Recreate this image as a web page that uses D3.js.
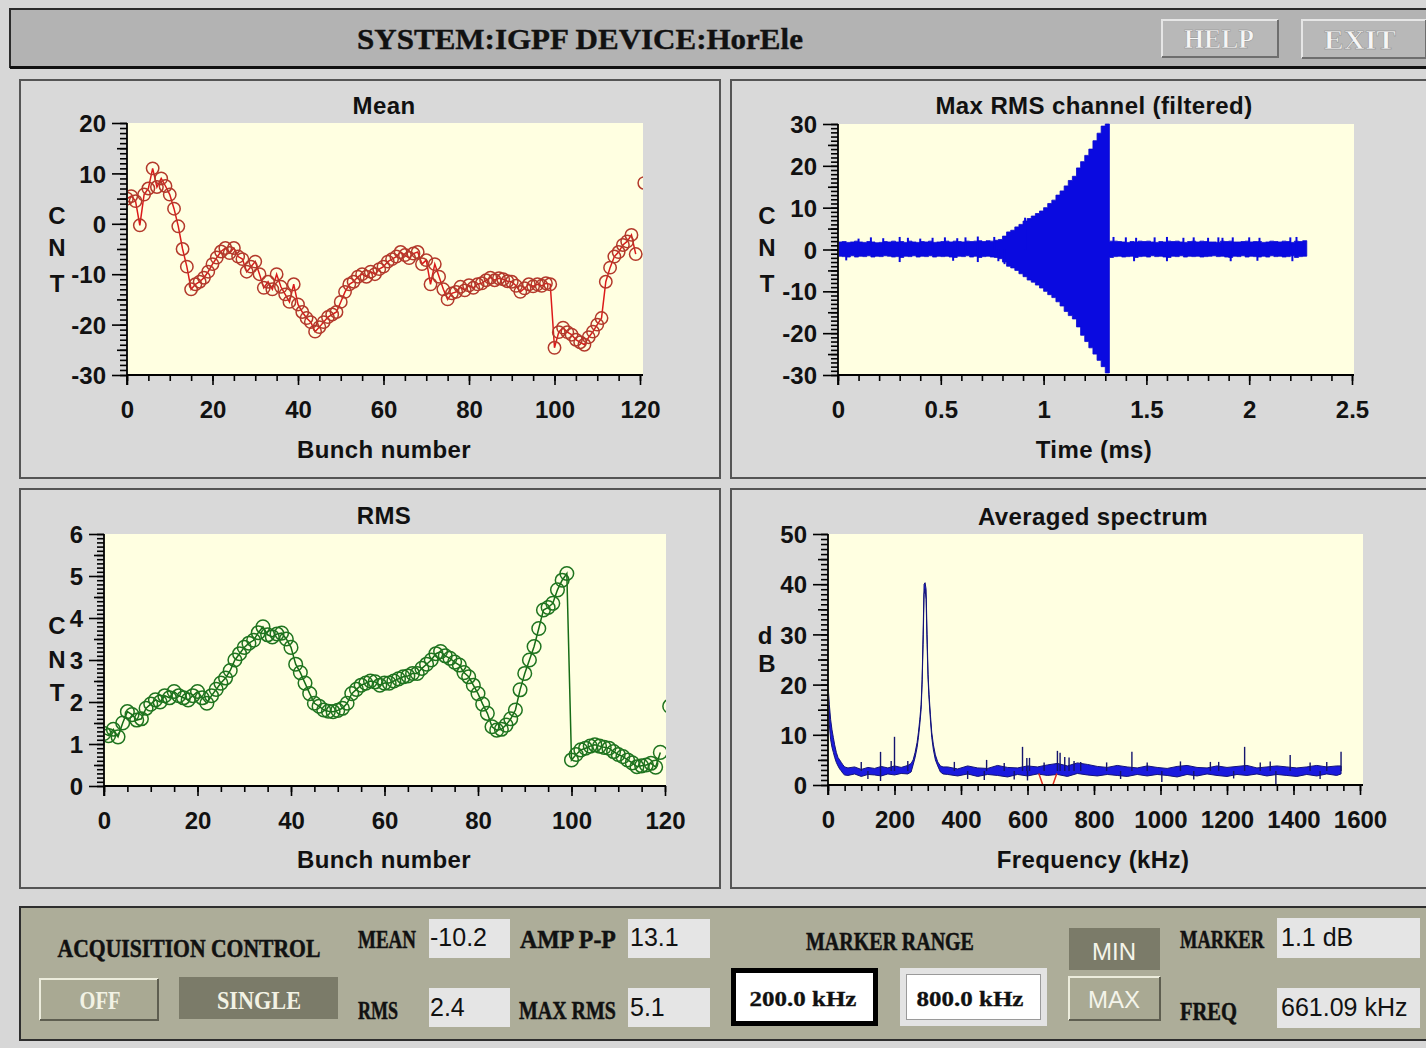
<!DOCTYPE html>
<html>
<head>
<meta charset="utf-8">
<script src="https://cdn.jsdelivr.net/npm/d3@7"></script>
<style>
  body { margin: 0; background: #d7d7d7; }
  svg { display: block; }
</style>
</head>
<body>
<svg id="screen" width="1426" height="1048"></svg>
<script>
// ---------------- data ----------------
// Mean position per bunch (CNT), bunches 0..119
const meanCnt = [
  5, 5.5, 4.5, -0.3, 5.8, 7, 11, 7.3, 9, 7.5,
  5.8, 3, -0.5, -5, -8.5, -13, -12, -11.5, -10.7, -9.5,
  -8, -6.7, -5.5, -4.8, -5.8, -4.8, -6.5, -7, -9.5, -8.5,
  -7.5, -10, -12.7, -11.5, -13, -10, -12.5, -14, -15.5, -12,
  -16, -17.5, -18.7, -19.5, -21.4, -20.5, -19.5, -18.5, -18, -17.5,
  -15.5, -13.5, -12, -11.5, -10.5, -10, -10.5, -9.5, -10, -9,
  -8.5, -7.5, -7, -6.5, -5.6, -6.2, -6.8, -5.9, -5.6, -8,
  -7.2, -12, -8, -10.5, -13, -15, -13.8, -13.5, -12.5, -13.2,
  -12.2, -12.7, -12, -11.8, -11.2, -10.7, -11.2, -10.8, -11, -11.4,
  -11.5, -12.3, -13.5, -12.8, -12, -12.4, -12, -12.3, -11.8, -12,
  -24.6, -21.5, -20.6, -21.5, -22, -23, -23.5, -24, -22.5, -21.4,
  -20, -18.7, -11.5, -8.7, -6.5, -5.6, -4.2, -3.5, -2.2, -6
];
const meanEdgeBunch = [121];
const meanEdgeCnt = [8.1];

// RMS per bunch (CNT), bunches 0..119
const rmsCnt = [
  1.25, 1.2, 1.35, 1.17, 1.5, 1.77, 1.7, 1.57, 1.6, 1.85,
  1.95, 2.05, 2.0, 2.15, 2.1, 2.25, 2.15, 2.1, 2.05, 2.15,
  2.25, 2.1, 1.97, 2.15, 2.3, 2.45, 2.57, 2.75, 3.0, 3.15,
  3.3, 3.4, 3.47, 3.65, 3.79, 3.6, 3.55, 3.62, 3.64, 3.5,
  3.3, 2.9, 2.7, 2.45, 2.2, 1.97, 1.9, 1.81, 1.78, 1.77,
  1.8, 1.85, 1.97, 2.2, 2.3, 2.4, 2.45, 2.5, 2.48, 2.4,
  2.45, 2.45, 2.5, 2.55, 2.6, 2.62, 2.68, 2.68, 2.8, 2.9,
  3.0, 3.15, 3.2, 3.1, 3.04, 2.95, 2.88, 2.7, 2.6, 2.4,
  2.2, 1.95, 1.73, 1.41, 1.33, 1.35, 1.45, 1.6, 1.81, 2.29,
  2.68, 3.0, 3.32, 3.75, 4.19, 4.25, 4.35, 4.67, 4.9, 5.06,
  0.62, 0.75, 0.86, 0.9, 0.95, 0.98, 0.95, 0.92, 0.9, 0.82,
  0.75, 0.7, 0.62, 0.55, 0.46, 0.48, 0.5, 0.54, 0.45, 0.8
];
const rmsEdgeBunch = [121];
const rmsEdgeCnt = [1.9];

// Max RMS channel: envelope of the filtered signal, one pair per 0.02 ms
const sampleStepMs = 0.02;
const maxUpper = [
  1.8, 1.9, 1.7, 1.8, 2.0, 1.8, 1.7, 1.9, 1.8, 1.6,
  1.7, 1.9, 1.8, 2.0, 1.8, 1.9, 1.7, 2.0, 1.8, 1.7,
  1.9, 1.8, 2.0, 1.7, 1.8, 1.9, 2.0, 1.8, 2.0, 1.9,
  1.8, 2.0, 1.9, 2.0, 2.1, 1.9, 2.1, 2.0, 2.2, 2.4,
  3.2, 4.2, 4.6, 5.4, 6.0, 6.8, 7.4, 8.0, 8.6, 9.2,
  10.0, 11.0, 11.8, 13.0, 14.0, 15.2, 16.5, 17.5, 19.5, 21.0,
  22.5, 24.0, 26.0, 27.8, 29.5, 30.0, 2.0,
  2.0, 1.9, 1.8, 1.7, 1.9, 1.8, 2.0, 1.9, 2.0, 1.8,
  1.7, 1.9, 1.8, 2.0, 1.9, 2.0, 1.8, 1.7, 1.9, 2.0,
  1.8, 2.0, 1.9, 1.8, 1.8, 1.7, 2.0, 1.9, 2.0, 1.8,
  1.8, 1.9, 2.0, 1.8, 1.9, 1.9, 1.7, 1.8, 2.0, 1.9,
  1.8, 2.0, 1.9, 1.7, 2.0, 1.9, 2.1, 2.1
];
const maxLower = [
  -1.6, -1.7, -1.8, -1.5, -1.8, -1.6, -1.7, -1.5, -1.8, -1.6,
  -1.7, -1.5, -1.6, -1.8, -1.7, -1.9, -1.6, -1.7, -1.5, -1.8,
  -1.6, -1.7, -1.5, -1.8, -1.6, -1.7, -1.6, -1.8, -1.9, -1.6,
  -1.7, -1.5, -1.8, -1.6, -1.9, -1.7, -1.6, -1.8, -1.9, -2.2,
  -3.0, -4.0, -4.4, -5.0, -5.8, -6.5, -7.3, -7.8, -8.5, -9.2,
  -10, -10.8, -11.5, -12.5, -13.5, -14.8, -15.8, -16.6, -18.5, -20.5,
  -22.0, -23.5, -25.0, -26.5, -28.0, -29.5, -1.9,
  -1.7, -1.6, -1.8, -1.7, -1.6, -1.9, -1.7, -1.6, -1.8, -1.5,
  -1.7, -1.6, -1.8, -1.9, -1.6, -1.7, -1.5, -1.8, -1.6, -1.7,
  -1.6, -1.8, -1.7, -1.6, -1.5, -1.7, -1.6, -1.8, -1.9, -1.6,
  -1.7, -1.5, -1.8, -1.6, -1.7, -1.8, -1.6, -1.8, -1.5, -1.7,
  -1.6, -1.8, -1.7, -1.5, -1.9, -1.7, -1.6, -1.6
];
// single-sample excursions out of the noise band (ms, CNT)
const sigSpikeTime = [0.04, 0.10, 0.16, 0.22, 0.30, 0.30, 0.34, 0.40, 0.46, 0.52, 0.56, 0.58, 0.62, 0.68, 0.68, 0.76, 0.78, 0.81, 0.91,
                      1.34, 1.40, 1.44, 1.45, 1.54, 1.60, 1.60, 1.68, 1.73, 1.80, 1.85, 1.87, 1.91, 1.92, 2.00, 2.04, 2.05, 2.20, 2.21, 2.23];
const sigSpikeCnt = [-2.6, 2.6, 2.9, 2.7, 3.0, -3.0, 2.8, 2.6, 2.8, 2.9, -2.7, 2.7, 2.9, 3.1, -3.0, 3.0, -2.8, -3.5, 7.6,
                     3.0, 2.9, -2.8, 2.8, 2.9, 3.0, -2.8, 2.8, 2.9, 2.8, 2.9, 2.8, -2.8, 2.9, 2.9, -2.7, 2.8, 2.9, -2.8, 3.0];

// Averaged spectrum: noise band (low/high dB) against frequency (kHz)
const specFreq = [
  0, 4, 8, 12, 16, 20, 25, 30, 35, 40, 45, 50,
  60, 80, 100, 120, 140, 160, 180, 200, 220, 240, 250,
  256, 262, 268, 272, 276, 280, 283, 286, 289, 292, 295, 298, 301, 304, 308, 312, 317, 323, 330, 338, 346,
  360, 390, 420, 450, 480, 510, 540, 570, 600, 630,
  660, 690, 720, 750, 780, 810, 840, 870, 900, 930,
  960, 990, 1020, 1050, 1080, 1110, 1140, 1170, 1200, 1230,
  1260, 1290, 1320, 1350, 1380, 1410, 1440, 1470, 1500, 1530, 1543
];
const specHigh = [
  20, 16, 13, 11, 9.5, 8, 6.5, 5.5, 5, 4.5, 4, 3.6,
  3.4, 3.6, 3.1, 3.5, 3.3, 3.7, 3.4, 3.8, 3.5, 3.9, 4.3,
  5, 6.5, 8.5, 10.5, 13, 16, 21, 30, 40, 40.3, 39, 30, 22, 18, 14, 10.5, 8, 6, 4.6, 3.8, 3.6,
  3.6, 3.2, 3.8, 3.4, 3.3, 3.9, 3.5, 3.4, 3.8, 3.6,
  4.0, 4.3, 3.8, 4.4, 4.1, 3.7, 3.5, 3.9, 3.6, 3.4,
  3.8, 3.5, 3.3, 3.7, 3.9, 3.5, 3.4, 3.8, 3.5, 3.7,
  3.9, 3.4, 3.6, 3.8, 3.6, 3.4, 3.6, 3.9, 3.6, 3.8, 3.8
];
const specLow = [
  18, 12, 9, 7.5, 6.5, 5.5, 4.5, 3.8, 3.2, 2.8, 2.3, 2.0,
  1.9, 2.2, 1.7, 2.1, 2.0, 1.8, 2.2, 2.0, 2.3, 2.2, 2.6,
  4, 5.5, 7.5, 9.5, 12, 15, 20, 28, 38, 39, 37, 28, 21, 17, 13, 9.5, 7, 5, 3.8, 2.6, 2.2,
  2.1, 1.8, 2.2, 1.7, 2.1, 1.9, 1.6, 2.1, 1.8, 2.2,
  1.9, 2.1, 1.7, 2.3, 2.0, 1.8, 2.1, 1.9, 1.7, 2.1,
  1.8, 2.1, 1.9, 1.6, 2.1, 1.8, 2.2, 1.9, 1.7, 2.1,
  1.9, 2.2, 1.8, 2.1, 1.9, 1.7, 2.1, 1.8, 2.2, 1.9, 2.2
];
// isolated spectral lines (kHz, dB reached)
const spikeFreq = [100, 158, 190, 200, 240, 380, 477, 530, 585, 598, 606, 650, 690, 698, 712, 725, 740, 760, 838, 914,
                   960, 1060, 1150, 1175, 1253, 1300, 1330, 1390, 1450, 1500, 1543,
                   120, 158, 420, 470, 560, 600, 880, 1004, 1100, 1220, 1347, 1480];
const spikeDb   = [4.6, 6.6, 4.8, 9.6, 4.8, 4.6, 5.0, 4.4, 7.6, 5.4, 5.4, 4.5, 6.8, 6.4, 5.6, 5.5, 4.8, 4.6, 4.5, 6.6,
                   4.5, 4.7, 4.6, 4.6, 7.6, 4.5, 4.7, 6.0, 4.5, 4.6, 6.6,
                   1.2, 0.8, 1.2, 1.0, 1.1, 0.9, 1.2, 0.6, 1.1, 1.3, 0.2, 1.2];
const markerFreq = 661.09;

// tick labels
const bunchTicks = [0, 20, 40, 60, 80, 100, 120];
const meanTicks = [-30, -20, -10, 0, 10, 20];
const rmsTicks = [0, 1, 2, 3, 4, 5, 6];
const timeTicks = [0, 0.5, 1, 1.5, 2, 2.5];
const cntTicks = [-30, -20, -10, 0, 10, 20, 30];
const freqTicks = [0, 200, 400, 600, 800, 1000, 1200, 1400, 1600];
const dbTicks = [0, 10, 20, 30, 40, 50];

// read-outs
const readMean = "-10.2", readAmp = "13.1", readRms = "2.4", readMaxRms = "5.1";
const readMarker = "1.1 dB", readFreq = "661.09 kHz";
const rangeMin = "200.0 kHz", rangeMax = "800.0 kHz";

// ---------------- drawing ----------------
const SANS = "'Liberation Sans', Arial, Helvetica, sans-serif";
const SERIF = "'Liberation Serif', 'DejaVu Serif', serif";
const svg = d3.select("#screen");

// text helper; `len` squeezes the text horizontally to the given width
function txt(parent, s, x, y, o = {}) {
  const t = parent.append("text").attr("x", x).attr("y", y).text(s)
    .attr("font-family", o.family || SANS)
    .attr("font-weight", o.weight || "bold")
    .attr("font-size", o.size || 24)
    .attr("fill", o.fill || "#111")
    .attr("text-anchor", o.anchor || "start");
  if (o.ls) t.attr("letter-spacing", o.ls);
  if (o.stroke) t.attr("stroke", o.stroke).attr("stroke-width", o.sw || 0.6);
  if (o.len) {
    const w = t.node().getComputedTextLength();
    if (w > 0) {
      const k = o.len / w;
      t.attr("transform", `translate(${x},${y}) scale(${k},1) translate(${-x},${-y})`);
    }
  }
  return t;
}

function bevel(parent, x, y, w, h, face, light, dark, lw = 2) {
  parent.append("rect").attr("x", x).attr("y", y).attr("width", w).attr("height", h).attr("fill", face);
  parent.append("path").attr("d", `M${x},${y + h}V${y}H${x + w}`).attr("fill", "none")
    .attr("stroke", light).attr("stroke-width", lw);
  parent.append("path").attr("d", `M${x},${y + h}H${x + w}V${y}`).attr("fill", "none")
    .attr("stroke", dark).attr("stroke-width", lw);
}

// header bar
svg.append("rect").attr("x", 10).attr("y", 9).attr("width", 1430).attr("height", 58)
  .attr("fill", "#b3b3b3").attr("stroke", "#2b2b2b").attr("stroke-width", 2);
svg.append("line").attr("x1", 10).attr("x2", 1426).attr("y1", 67.5).attr("y2", 67.5)
  .attr("stroke", "#111").attr("stroke-width", 3);
txt(svg, "SYSTEM:IGPF DEVICE:HorEle", 580, 49, { family: SERIF, size: 30, anchor: "middle", len: 446, stroke: "#111", sw: 0.4 });
bevel(svg, 1162, 20, 116, 37, "#b8b8b8", "#e6e6e6", "#6e6e6e");
bevel(svg, 1302, 20, 124, 38, "#b8b8b8", "#e6e6e6", "#6e6e6e");
txt(svg, "HELP", 1219, 48, { family: SERIF, size: 27, anchor: "middle", len: 70, fill: "#f6f6f6", stroke: "#8a8a8a", sw: 0.5 });
txt(svg, "EXIT", 1360, 49, { family: SERIF, size: 27, anchor: "middle", len: 72, fill: "#f6f6f6", stroke: "#8a8a8a", sw: 0.5 });

// plot panels
[[20, 80, 700, 398], [731, 80, 710, 398], [20, 489, 700, 399], [731, 489, 710, 399]].forEach(([x, y, w, h]) => {
  svg.append("rect").attr("x", x).attr("y", y).attr("width", w).attr("height", h)
    .attr("fill", "#d9d9d9").attr("stroke", "#555").attr("stroke-width", 2);
});

function chart(cfg) {
  const g = svg.append("g");
  const x = d3.scaleLinear().domain(cfg.xDomain).range(cfg.xRange);
  const y = d3.scaleLinear().domain(cfg.yDomain).range(cfg.yRange);
  const x0 = cfg.xRange[0], yb = cfg.yRange[0], yt = cfg.yRange[1];
  g.append("rect").attr("x", x0).attr("y", yt).attr("width", cfg.right - x0).attr("height", yb - yt)
    .attr("fill", "#ffffe1");
  g.append("clipPath").attr("id", cfg.id).append("rect")
    .attr("x", x0 + 1).attr("y", yt - 1).attr("width", cfg.right - x0 - 1).attr("height", yb - yt + 1);
  const plot = g.append("g").attr("clip-path", `url(#${cfg.id})`);
  return { g, x, y, plot, cfg };
}

const plainNum = d => String(d);

function axes(c) {
  const { g, x, y, cfg } = c;
  const x0 = cfg.xRange[0], yb = cfg.yRange[0], yt = cfg.yRange[1];
  const style = sel => {
    sel.select(".domain").remove();
    sel.selectAll("line").attr("stroke", "#000").attr("stroke-width", 1.6);
    sel.attr("font-family", SANS).attr("font-size", 24).attr("font-weight", "bold");
    sel.selectAll("text").attr("fill", "#111");
  };
  // y axis: minor, medium, major
  g.append("g").attr("transform", `translate(${x0},0)`)
    .call(d3.axisLeft(y).tickValues(cfg.yMinor).tickSize(7).tickFormat("")).call(style);
  if (cfg.yMid) g.append("g").attr("transform", `translate(${x0},0)`)
    .call(d3.axisLeft(y).tickValues(cfg.yMid).tickSize(10).tickFormat("")).call(style);
  g.append("g").attr("transform", `translate(${x0},0)`)
    .call(d3.axisLeft(y).tickValues(cfg.yTicks).tickSize(15).tickPadding(6).tickFormat(plainNum))
    .call(style)
    .selectAll("text").attr("dy", "0.36em");
  // x axis
  g.append("g").attr("transform", `translate(0,${yb})`)
    .call(d3.axisBottom(x).tickValues(cfg.xMinor).tickSize(6).tickFormat("")).call(style);
  g.append("g").attr("transform", `translate(0,${yb})`)
    .call(d3.axisBottom(x).tickValues(cfg.xTicks).tickSize(10).tickPadding(16).tickFormat(plainNum))
    .call(style);
  g.append("line").attr("x1", x0).attr("x2", cfg.right).attr("y1", yb).attr("y2", yb)
    .attr("stroke", "#000").attr("stroke-width", 1.8);
  g.append("line").attr("x1", x0).attr("x2", x0).attr("y1", yt).attr("y2", yb + 10)
    .attr("stroke", "#000").attr("stroke-width", 1.8);
  // titles
  txt(g, cfg.title, cfg.titleX, cfg.titleY, { anchor: "middle", ls: 0.4 });
  txt(g, cfg.xLabel, cfg.titleX, cfg.xLabelY, { anchor: "middle", ls: 0.4 });
  cfg.yLetters.forEach(([s, lx, ly]) => txt(g, s, lx, ly, { anchor: "middle" }));
}

// --- Mean ---
const mean = chart({
  id: "clipMean", xDomain: [0, 120], xRange: [127, 640], right: 643,
  yDomain: [-30, 20], yRange: [375, 123]
});
Object.assign(mean.cfg, {
  yMinor: d3.range(-30, 20.5, 1), yMid: d3.range(-25, 20, 10), yTicks: meanTicks,
  xMinor: d3.range(0, 121, 5), xTicks: bunchTicks,
  title: "Mean", titleX: 384, titleY: 114, xLabel: "Bunch number", xLabelY: 458,
  yLetters: [["C", 57, 224], ["N", 57, 256], ["T", 57, 292]]
});
mean.plot.append("path").datum(meanCnt)
  .attr("d", d3.line().x((d, i) => mean.x(i)).y(d => mean.y(d)))
  .attr("fill", "none").attr("stroke", "#dc1a1a").attr("stroke-width", 1.5);
mean.plot.selectAll("circle.m").data(meanCnt).join("circle")
  .attr("cx", (d, i) => mean.x(i)).attr("cy", d => mean.y(d)).attr("r", 6.2)
  .attr("fill", "none").attr("stroke", "#b3392b").attr("stroke-width", 1.5);
mean.plot.selectAll("circle.e").data(meanEdgeCnt).join("circle")
  .attr("cx", (d, i) => mean.x(meanEdgeBunch[i])).attr("cy", d => mean.y(d)).attr("r", 6.2)
  .attr("fill", "none").attr("stroke", "#b3392b").attr("stroke-width", 1.5);
axes(mean);

// --- RMS ---
const rms = chart({
  id: "clipRms", xDomain: [0, 120], xRange: [104, 665], right: 666,
  yDomain: [0, 6], yRange: [786, 534]
});
Object.assign(rms.cfg, {
  yMinor: d3.range(0, 6.01, 0.1), yMid: d3.range(0.5, 6, 1), yTicks: rmsTicks,
  xMinor: d3.range(0, 121, 5), xTicks: bunchTicks,
  title: "RMS", titleX: 384, titleY: 524, xLabel: "Bunch number", xLabelY: 868,
  yLetters: [["C", 57, 634], ["N", 57, 668], ["T", 57, 701]]
});
rms.plot.append("path").datum(rmsCnt)
  .attr("d", d3.line().x((d, i) => rms.x(i)).y(d => rms.y(d)))
  .attr("fill", "none").attr("stroke", "#166c16").attr("stroke-width", 1.5);
rms.plot.selectAll("circle.m").data(rmsCnt).join("circle")
  .attr("cx", (d, i) => rms.x(i)).attr("cy", d => rms.y(d)).attr("r", 6.8)
  .attr("fill", "none").attr("stroke", "#1f741f").attr("stroke-width", 1.5);
rms.plot.selectAll("circle.e").data(rmsEdgeCnt).join("circle")
  .attr("cx", (d, i) => rms.x(rmsEdgeBunch[i])).attr("cy", d => rms.y(d)).attr("r", 6.8)
  .attr("fill", "none").attr("stroke", "#1f741f").attr("stroke-width", 1.5);
axes(rms);

// --- Max RMS channel (filtered) ---
const sig = chart({
  id: "clipSig", xDomain: [0, 2.5], xRange: [838, 1352], right: 1354,
  yDomain: [-30, 30], yRange: [375, 124]
});
Object.assign(sig.cfg, {
  yMinor: d3.range(-30, 30.5, 1), yMid: d3.range(-25, 30, 10), yTicks: cntTicks,
  xMinor: d3.range(0, 2.51, 0.1), xTicks: timeTicks,
  title: "Max RMS channel (filtered)", titleX: 1094, titleY: 114, xLabel: "Time (ms)", xLabelY: 458,
  yLetters: [["C", 767, 224], ["N", 767, 256], ["T", 767, 292]]
});
sig.plot.append("path").datum(maxUpper)
  .attr("d", d3.area().curve(d3.curveStepAfter)
    .x((d, i) => sig.x(i * sampleStepMs))
    .y0((d, i) => sig.y(maxLower[i])).y1(d => sig.y(d)))
  .attr("fill", "#0a0ae0").attr("stroke", "#0a0ad0").attr("stroke-width", 0.8);
sig.plot.selectAll("line.spk").data(sigSpikeTime).join("line")
  .attr("x1", d => sig.x(d)).attr("x2", d => sig.x(d))
  .attr("y1", sig.y(0)).attr("y2", (d, i) => sig.y(sigSpikeCnt[i]))
  .attr("stroke", "#0a0ae0").attr("stroke-width", 2);
axes(sig);

// --- Averaged spectrum ---
const spec = chart({
  id: "clipSpec", xDomain: [0, 1600], xRange: [828, 1360], right: 1363,
  yDomain: [0, 50], yRange: [785, 534]
});
Object.assign(spec.cfg, {
  yMinor: d3.range(0, 50.5, 1), yMid: d3.range(5, 50, 10), yTicks: dbTicks,
  xMinor: d3.range(0, 1601, 50), xTicks: freqTicks,
  title: "Averaged spectrum", titleX: 1093, titleY: 525, xLabel: "Frequency (kHz)", xLabelY: 868,
  yLetters: [["d", 765, 644], ["B", 767, 672]]
});
spec.plot.append("path").datum(specFreq)
  .attr("d", d3.area().x(d => spec.x(d)).y0((d, i) => spec.y(specLow[i])).y1((d, i) => spec.y(specHigh[i])))
  .attr("fill", "#1a1ade").attr("stroke", "#12127a").attr("stroke-width", 1);
spec.plot.selectAll("line.spk").data(spikeFreq).join("line")
  .attr("x1", d => spec.x(d)).attr("x2", d => spec.x(d))
  .attr("y1", spec.y(2.8)).attr("y2", (d, i) => spec.y(spikeDb[i]))
  .attr("stroke", "#14146e").attr("stroke-width", 1.4);
// frequency marker
const mx = spec.x(markerFreq);
spec.plot.append("path")
  .attr("d", `M${mx - 9},${spec.y(2.3)}L${mx - 5},${spec.y(0)}M${mx + 9},${spec.y(2.3)}L${mx + 5},${spec.y(0)}`)
  .attr("fill", "none").attr("stroke", "#e03020").attr("stroke-width", 1.5);
axes(spec);

// ---------------- control panel ----------------
const cp = svg.append("g");
cp.append("rect").attr("x", 20).attr("y", 907).attr("width", 1420).attr("height", 133)
  .attr("fill", "#adad99").attr("stroke", "#2e2e2e").attr("stroke-width", 2);

const lab = { family: SERIF, size: 25, stroke: "#111", sw: 0.5 };
txt(cp, "ACQUISITION CONTROL", 189, 957, { ...lab, anchor: "middle", len: 263 });
bevel(cp, 40, 979, 118, 41, "#a9a993", "#ececdc", "#5e5e50");
txt(cp, "OFF", 100, 1009, { family: SERIF, size: 25, anchor: "middle", len: 41, fill: "#f2f2e4" });
cp.append("rect").attr("x", 179).attr("y", 977).attr("width", 159).attr("height", 42).attr("fill", "#7b7b69");
txt(cp, "SINGLE", 259, 1009, { family: SERIF, size: 25, anchor: "middle", len: 84, fill: "#f2f2e4" });

// value boxes
[[429, 919, 81, 39], [628, 919, 82, 39], [429, 988, 81, 39], [628, 988, 82, 39],
 [1277, 918, 143, 40], [1277, 988, 143, 40]].forEach(([x, y, w, h]) => {
  cp.append("rect").attr("x", x).attr("y", y).attr("width", w).attr("height", h).attr("fill", "#e5e5e5");
});
txt(cp, "MEAN", 358, 948, { ...lab, len: 58 });
txt(cp, "AMP P-P", 520, 948, { ...lab, len: 96 });
txt(cp, "RMS", 358, 1019, { ...lab, len: 40 });
txt(cp, "MAX RMS", 519, 1019, { ...lab, len: 97 });
txt(cp, readMean, 430, 946, { weight: "normal", size: 25 });
txt(cp, readAmp, 630, 946, { weight: "normal", size: 25 });
txt(cp, readRms, 430, 1016, { weight: "normal", size: 25 });
txt(cp, readMaxRms, 630, 1016, { weight: "normal", size: 25 });

txt(cp, "MARKER RANGE", 806, 950, { ...lab, len: 168 });
cp.append("rect").attr("x", 733.5).attr("y", 970.5).attr("width", 142).attr("height", 53)
  .attr("fill", "#fff").attr("stroke", "#000").attr("stroke-width", 5);
txt(cp, rangeMin, 803, 1006, { family: SERIF, size: 21, anchor: "middle", len: 107, stroke: "#111", sw: 0.3 });
cp.append("rect").attr("x", 903).attr("y", 971).attr("width", 141).attr("height", 52)
  .attr("fill", "#fff").attr("stroke", "#e3e3e3").attr("stroke-width", 6);
cp.append("rect").attr("x", 906.5).attr("y", 974.5).attr("width", 134).attr("height", 45)
  .attr("fill", "none").attr("stroke", "#9a9a9a").attr("stroke-width", 1);
txt(cp, rangeMax, 970, 1006, { family: SERIF, size: 21, anchor: "middle", len: 107, stroke: "#111", sw: 0.3 });

cp.append("rect").attr("x", 1069).attr("y", 928).attr("width", 91).attr("height", 42).attr("fill", "#7b7b69");
txt(cp, "MIN", 1114, 960, { weight: "normal", size: 24, anchor: "middle", fill: "#f4f4ea" });
bevel(cp, 1069, 977, 91, 43, "#a9a993", "#ececdc", "#5e5e50");
txt(cp, "MAX", 1114, 1008, { weight: "normal", size: 24, anchor: "middle", fill: "#f4f4ea" });

txt(cp, "MARKER", 1180, 948, { ...lab, len: 84 });
txt(cp, "FREQ", 1180, 1020, { ...lab, len: 57 });
txt(cp, readMarker, 1281, 946, { weight: "normal", size: 25 });
txt(cp, readFreq, 1281, 1016, { weight: "normal", size: 25 });
</script>
</body>
</html>
